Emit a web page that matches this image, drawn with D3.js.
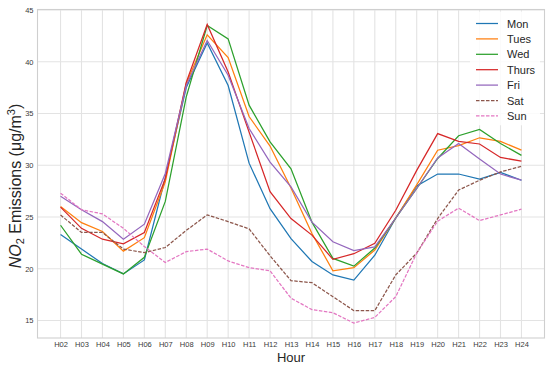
<!DOCTYPE html>
<html>
<head>
<meta charset="utf-8">
<script src="https://cdn.jsdelivr.net/npm/d3@7"></script>
<style>
  body { margin: 0; background: #fff; }
  svg { display: block; font-family: "Liberation Sans", Arial, sans-serif; }
</style>
</head>
<body>
<script>
// hourly NO2 readings per weekday
var hours = ["H02", "H03", "H04", "H05", "H06", "H07", "H08", "H09", "H10", "H11", "H12", "H13",
             "H14", "H15", "H16", "H17", "H18", "H19", "H20", "H21", "H22", "H23", "H24"];

var mon   = [23.3, 21.9, 20.5, 19.5, 20.85, 28.8, 37.5, 41.8, 37.7, 30.2, 25.8, 22.9,
             20.7, 19.4, 18.9, 21.3, 24.9, 28.0, 29.15, 29.15, 28.65, 29.3, 28.55];
var tues  = [26.0, 24.45, 23.6, 21.7, 23.0, 28.4, 37.9, 42.6, 40.4, 34.7, 31.85, 27.8,
             23.4, 19.8, 20.1, 21.8, 24.9, 28.1, 31.45, 31.9, 32.65, 32.3, 31.45];
var wed   = [24.2, 21.4, 20.45, 19.5, 21.1, 26.5, 36.6, 43.5, 42.2, 35.8, 32.25, 29.65,
             24.5, 21.0, 20.25, 22.0, 24.9, 27.75, 30.65, 32.85, 33.45, 32.1, 30.95];
var thurs = [25.95, 23.9, 22.85, 22.4, 23.5, 28.7, 38.0, 43.6, 39.0, 33.2, 27.45, 24.85,
             23.25, 20.9, 21.45, 22.45, 25.65, 29.5, 33.05, 32.3, 32.05, 30.75, 30.4];
var fri   = [27.0, 25.7, 24.55, 22.85, 24.3, 29.2, 37.7, 42.05, 38.7, 33.55, 30.3, 27.9,
             24.5, 22.6, 21.75, 22.1, 24.9, 27.75, 30.7, 32.1, 30.6, 29.15, 28.55];
var sat   = [25.2, 23.5, 23.5, 21.9, 21.55, 22.05, 23.7, 25.2, 24.55, 23.85, 21.25, 18.85,
             18.65, 17.3, 15.95, 15.95, 19.4, 21.5, 24.85, 27.6, 28.55, 29.35, 29.9];
var sun   = [27.3, 25.7, 25.3, 23.9, 22.15, 20.6, 21.65, 21.9, 20.75, 20.1, 19.8, 17.15,
             16.05, 15.75, 14.75, 15.3, 17.3, 21.5, 24.6, 25.85, 24.65, 25.2, 25.75];

var dayNames = ["Mon", "Tues", "Wed", "Thurs", "Fri", "Sat", "Sun"];
var yTicks = [15, 20, 25, 30, 35, 40, 45];

var series = [
  { name: dayNames[0], values: mon,   color: "#1f77b4", dash: null },
  { name: dayNames[1], values: tues,  color: "#ff7f0e", dash: null },
  { name: dayNames[2], values: wed,   color: "#2ca02c", dash: null },
  { name: dayNames[3], values: thurs, color: "#d62728", dash: null },
  { name: dayNames[4], values: fri,   color: "#9467bd", dash: null },
  { name: dayNames[5], values: sat,   color: "#8c564b", dash: "3.5,1.5" },
  { name: dayNames[6], values: sun,   color: "#e377c2", dash: "3.5,1.5" }
];

var width = 550, height = 367;
var margin = { top: 9.5, right: 5.5, bottom: 29, left: 37.5 };

var svg = d3.select(document.body).append("svg")
  .attr("width", width)
  .attr("height", height);

// matplotlib style 5% margins around the data
var n = hours.length - 1;
var x = d3.scaleLinear()
  .domain([-0.05 * n, n * 1.05])
  .range([margin.left, width - margin.right]);

var all = d3.merge(series.map(function(s) { return s.values; }));
var lo = d3.min(all), hi = d3.max(all), pad = (hi - lo) * 0.05;
var y = d3.scaleLinear()
  .domain([lo - pad, hi + pad])
  .range([height - margin.bottom, margin.top]);

// grid
var grid = svg.append("g").attr("stroke", "#e3e3e3").attr("stroke-width", 1.1);
grid.selectAll("line.v").data(hours).enter().append("line")
  .attr("x1", function(d, i) { return x(i); })
  .attr("x2", function(d, i) { return x(i); })
  .attr("y1", margin.top).attr("y2", height - margin.bottom);
grid.selectAll("line.h").data(yTicks).enter().append("line")
  .attr("y1", function(d) { return y(d); })
  .attr("y2", function(d) { return y(d); })
  .attr("x1", margin.left).attr("x2", width - margin.right);

// axes, labels only (no tick marks in whitegrid)
var xAxis = svg.append("g")
  .attr("transform", "translate(0," + (height - margin.bottom) + ")")
  .call(d3.axisBottom(x).tickValues(d3.range(hours.length))
    .tickFormat(function(i) { return hours[i]; }).tickSize(0).tickPadding(3.5));
var yAxis = svg.append("g")
  .attr("transform", "translate(" + margin.left + ",0)")
  .call(d3.axisLeft(y).tickValues(yTicks).tickSize(0).tickPadding(4));
[xAxis, yAxis].forEach(function(a) {
  a.select(".domain").remove();
  a.selectAll("text").attr("fill", "#3a3a3a").style("font-size", "7.5px")
    .style("font-family", "'Liberation Sans', Arial, sans-serif");
});

// frame
svg.append("rect")
  .attr("x", margin.left).attr("y", margin.top)
  .attr("width", width - margin.left - margin.right)
  .attr("height", height - margin.top - margin.bottom)
  .attr("fill", "none").attr("stroke", "#cfcfcf").attr("stroke-width", 1.1);

// lines
var line = d3.line()
  .x(function(d, i) { return x(i); })
  .y(function(d) { return y(d); });

svg.append("g").selectAll("path").data(series).enter().append("path")
  .attr("d", function(s) { return line(s.values); })
  .attr("fill", "none")
  .attr("stroke", function(s) { return s.color; })
  .attr("stroke-width", 1.25)
  .attr("stroke-dasharray", function(s) { return s.dash; });

// legend
var lx = 476, ly = 23.5, step = 15.4;
svg.append("rect")
  .attr("x", lx - 6).attr("y", ly - 12)
  .attr("width", 70).attr("height", step * 7 + 6)
  .attr("fill", "#fff").attr("opacity", 0.85);
var leg = svg.append("g").selectAll("g").data(series).enter().append("g")
  .attr("transform", function(d, i) { return "translate(" + lx + "," + (ly + i * step) + ")"; });
leg.append("line")
  .attr("x1", 0).attr("x2", 22).attr("y1", 0).attr("y2", 0)
  .attr("stroke", function(s) { return s.color; })
  .attr("stroke-width", 1.25)
  .attr("stroke-dasharray", function(s) { return s.dash; });
leg.append("text")
  .attr("x", 31).attr("y", 4)
  .attr("fill", "#262626")
  .style("font-size", "11px")
  .text(function(s) { return s.name; });

// axis titles
svg.append("text")
  .attr("x", (margin.left + width - margin.right) / 2)
  .attr("y", 361.5)
  .attr("text-anchor", "middle")
  .attr("fill", "#262626")
  .style("font-size", "13px")
  .text("Hour");

var yl = svg.append("text")
  .attr("transform", "translate(21,186) rotate(-90)")
  .attr("text-anchor", "middle")
  .attr("fill", "#262626")
  .style("font-size", "16px");
yl.append("tspan").style("font-style", "italic").text("NO");
yl.append("tspan").attr("baseline-shift", "-25%").style("font-size", "11px").text("2");
yl.append("tspan").text(" Emissions (μg/m");
yl.append("tspan").attr("baseline-shift", "super").style("font-size", "11px").text("3");
yl.append("tspan").text(")");
</script>
</body>
</html>
